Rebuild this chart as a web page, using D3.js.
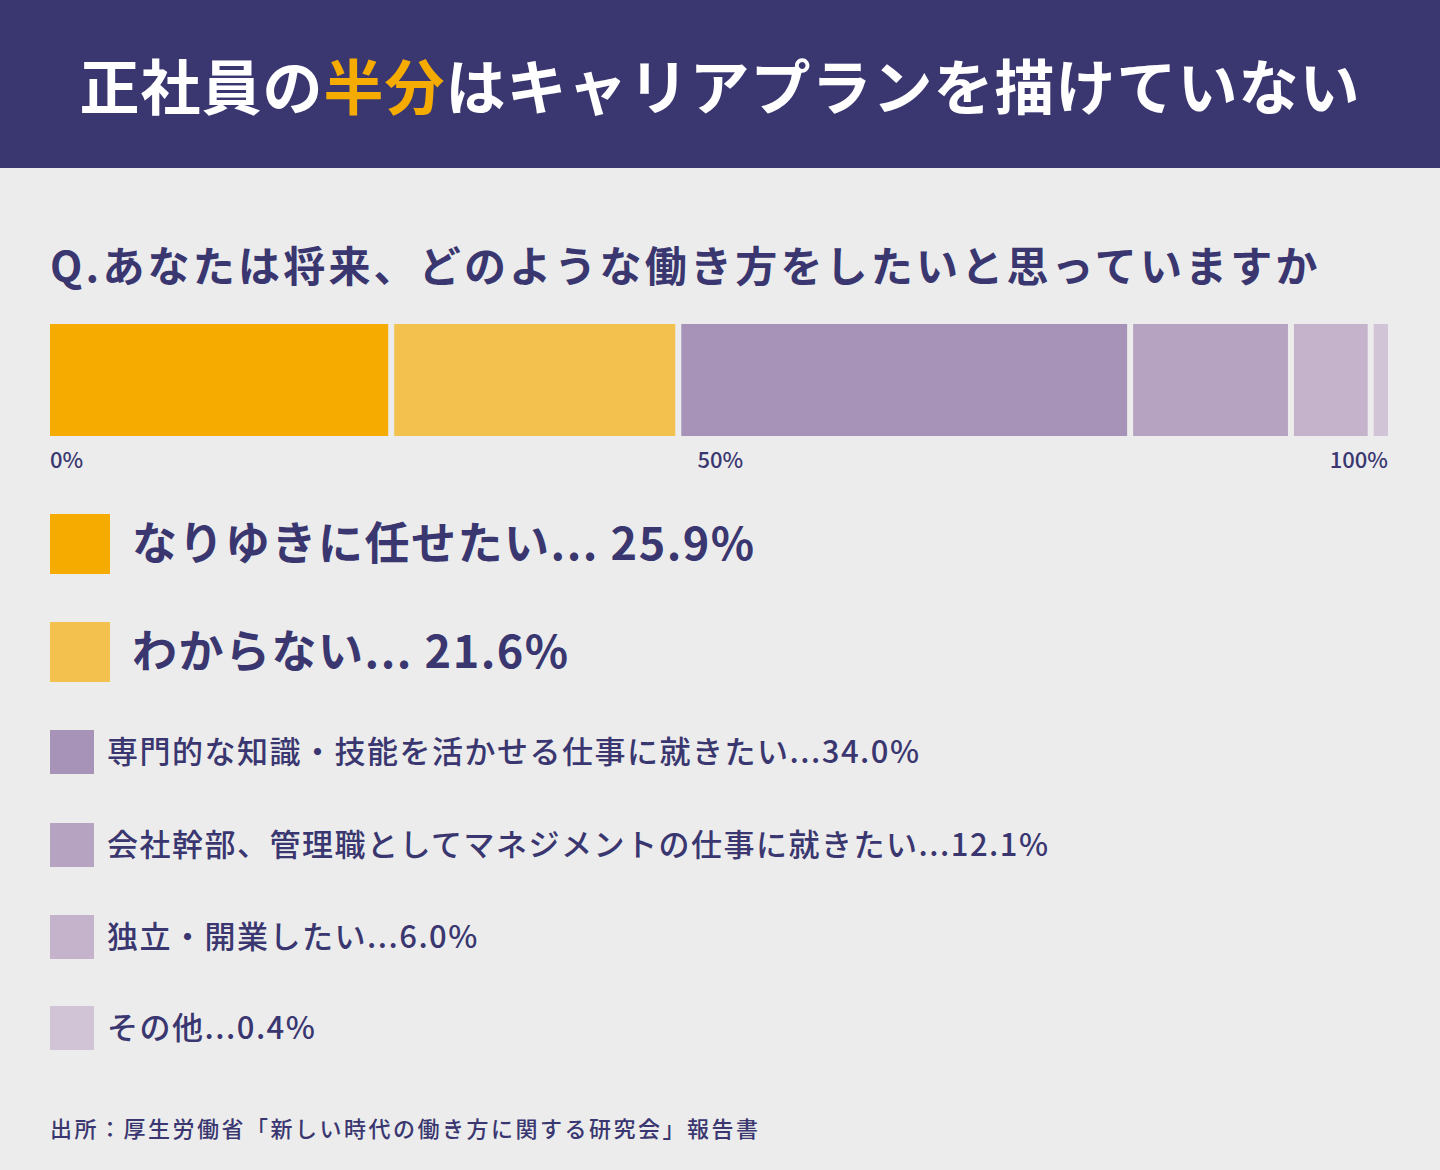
<!DOCTYPE html><html><head><meta charset="utf-8"><script src="https://cdn.jsdelivr.net/npm/d3@7"></script>
<style>body{margin:0;background:#ececec}svg{display:block}text{font-family:"Noto Sans CJK JP",sans-serif}</style></head><body>
<svg id="c" width="1440" height="1170"></svg>
<script>
const categories=["なりゆきに任せたい","わからない","専門的な知識・技能を活かせる仕事に就きたい","会社幹部、管理職としてマネジメントの仕事に就きたい","独立・開業したい","その他"];
const values=[25.9,21.6,34.0,12.1,6.0,0.4];
const colors=["#f5ab00","#f2c14e","#a893b8","#b6a3c2","#c4b3cb","#d1c4d6"];
const tickLabels=[0,50,100];
const ink="#3a3770";
const svg=d3.select("#c");
svg.append("rect").attr("width",1440).attr("height",1170).attr("fill","#ececec");
svg.append("rect").attr("width",1440).attr("height",168).attr("fill",ink);
const t=svg.append("text").attr("x",720).attr("y",110).attr("text-anchor","middle").attr("fill","#fff").attr("font-size",60).attr("font-weight",700).attr("letter-spacing",1);
t.append("tspan").text("正社員の");t.append("tspan").attr("fill","#f5ab00").text("半分");t.append("tspan").text("はキャリアプランを描けていない");
svg.append("text").attr("x",50).attr("y",282).attr("fill",ink).attr("font-size",42).attr("font-weight",700).attr("letter-spacing",3.2).text("Q.あなたは将来、どのような働き方をしたいと思っていますか");
const x=d3.scaleLinear().domain([0,100]).range([50,1379]);
let cum=0;const segs=values.map((v,i)=>{const s={v,i,a:cum};cum+=v;return s;});
svg.selectAll(".seg").data(segs).join("rect").attr("x",d=>x(d.a)).attr("y",324).attr("height",112)
 .attr("width",d=>d.i===segs.length-1?1388-x(d.a):x(d.a+d.v)-x(d.a)-6).attr("fill",d=>colors[d.i]);
svg.selectAll(".tk").data(tickLabels).join("text").attr("x",d=>d===0?50:d===100?1388:x(d)-17).attr("y",468)
 .attr("text-anchor",d=>d===100?"end":"start").attr("fill",ink).attr("font-size",22).attr("font-weight",500).text(d=>d+"%");
const ys=[544,652,752,845,937,1028];
categories.forEach((c,i)=>{
 const big=i<2, s=big?60:44;
 svg.append("rect").attr("x",50).attr("y",ys[i]-s/2).attr("width",big?60:44).attr("height",s).attr("fill",colors[i]);
 svg.append("text").attr("x",big?132:107).attr("y",ys[i]).attr("dy","0.36em").attr("fill",ink)
  .attr("font-size",big?45:31).attr("font-weight",big?700:500).attr("letter-spacing",big?1.5:1.5).text(c+(big?"... ":"...")+values[i].toFixed(1)+"%");
});
svg.append("text").attr("x",50).attr("y",1137).attr("fill",ink).attr("font-size",22).attr("font-weight",500).attr("letter-spacing",2.5).text("出所：厚生労働省「新しい時代の働き方に関する研究会」報告書");
</script></body></html>
